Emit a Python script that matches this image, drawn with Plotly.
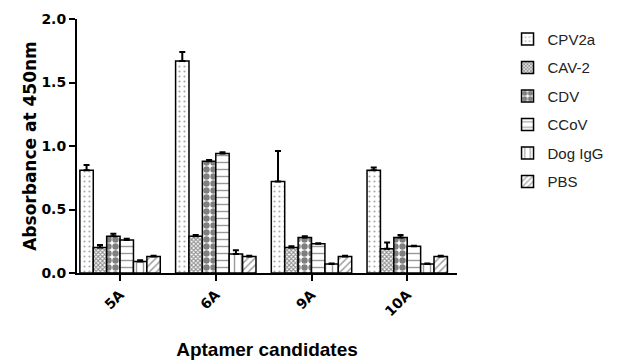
import plotly.graph_objects as go

candidates = ["5A", "6A", "9A", "10A"]

cpv2a = [0.81, 1.67, 0.72, 0.81]
cpv2a_err = [0.04, 0.07, 0.24, 0.02]
cav2 = [0.20, 0.29, 0.20, 0.19]
cav2_err = [0.02, 0.01, 0.01, 0.05]
cdv = [0.29, 0.88, 0.28, 0.28]
cdv_err = [0.02, 0.01, 0.01, 0.02]
ccov = [0.26, 0.94, 0.23, 0.21]
ccov_err = [0.01, 0.01, 0.005, 0.005]
dog_igg = [0.09, 0.15, 0.07, 0.07]
dog_igg_err = [0.01, 0.03, 0.005, 0.005]
pbs = [0.13, 0.13, 0.13, 0.13]
pbs_err = [0.005, 0.005, 0.005, 0.005]

series = [
    ("CPV2a", cpv2a, cpv2a_err, dict(shape=".", size=5, solidity=0.15, fgcolor="#555555", bgcolor="white")),
    ("CAV-2", cav2, cav2_err, dict(shape="x", size=3, solidity=0.6, fgcolor="#222222", bgcolor="white")),
    ("CDV", cdv, cdv_err, dict(shape=".", size=7, solidity=0.65, fgcolor="black", bgcolor="white")),
    ("CCoV", ccov, ccov_err, dict(shape="-", size=7, solidity=0.2, fgcolor="#333333", bgcolor="white")),
    ("Dog IgG", dog_igg, dog_igg_err, dict(shape="|", size=7, solidity=0.2, fgcolor="#333333", bgcolor="white")),
    ("PBS", pbs, pbs_err, dict(shape="/", size=5, solidity=0.3, fgcolor="#444444", bgcolor="white")),
]

fig = go.Figure()
for name, vals, errs, pat in series:
    fig.add_trace(go.Bar(
        name=name,
        legendgroup=name,
        x=candidates,
        y=vals,
        marker=dict(color="white", line=dict(color="black", width=1.5), pattern=pat),
        error_y=dict(type="data", array=errs, arrayminus=[0] * len(errs),
                     symmetric=False, color="black", thickness=2, width=3),
    ))

axis_font = "DejaVu Sans, Arial, sans-serif"

fig.update_layout(
    width=633, height=360,
    margin=dict(l=77, r=176, t=19, b=87),
    paper_bgcolor="white", plot_bgcolor="white",
    barmode="group", bargap=0.16, bargroupgap=0,
    font=dict(family="Arial, Liberation Sans, sans-serif", color="black"),
    showlegend=True,
    legend=dict(x=1.133, y=0.985, xanchor="left", yanchor="top",
                font=dict(size=15, color="#222222"),
                tracegroupgap=6, traceorder="grouped",
                bgcolor="rgba(0,0,0,0)"),
    xaxis=dict(
        range=[-0.45, 3.52],
        automargin=False,
        showline=True, linecolor="black", linewidth=2,
        ticks="outside", ticklen=6, tickwidth=2, tickcolor="black",
        tickangle=-45,
        tickvals=candidates,
        ticktext=["<b>%s</b>" % c for c in candidates],
        tickfont=dict(size=14, family=axis_font),
        title=dict(text="<b>Aptamer candidates</b>",
                   font=dict(size=19, family="Arial, Liberation Sans, sans-serif"),
                   standoff=26),
        showgrid=False, zeroline=False,
    ),
    yaxis=dict(
        range=[0, 2.0],
        automargin=False,
        tickvals=[0, 0.5, 1.0, 1.5, 2.0],
        ticktext=["<b>0.0</b>", "<b>0.5</b>", "<b>1.0</b>", "<b>1.5</b>", "<b>2.0</b>"],
        showline=True, linecolor="black", linewidth=2,
        ticks="outside", ticklen=6, tickwidth=2, tickcolor="black",
        tickfont=dict(size=14, family=axis_font),
        title=dict(text="<b>Absorbance at 450nm</b>", font=dict(size=17, family=axis_font), standoff=0),
        showgrid=False, zeroline=False,
    ),
)

fig.write_html("out.html")
